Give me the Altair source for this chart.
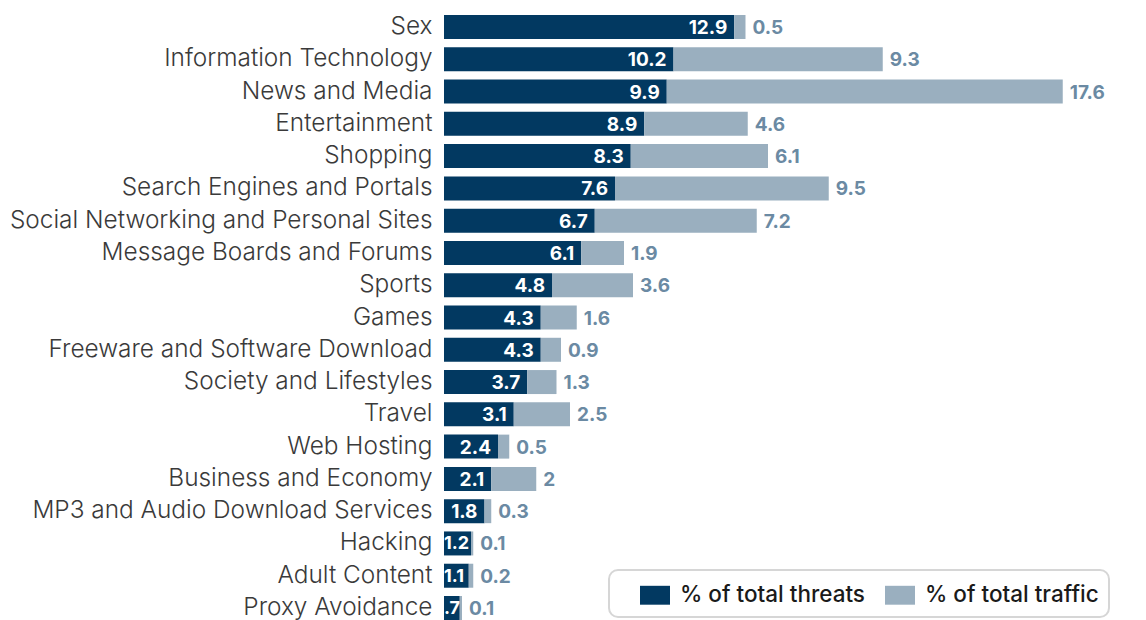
import altair as alt
import pandas as pd

categories = [
    "Sex", "Information Technology", "News and Media", "Entertainment", "Shopping",
    "Search Engines and Portals", "Social Networking and Personal Sites",
    "Message Boards and Forums", "Sports", "Games", "Freeware and Software Download",
    "Society and Lifestyles", "Travel", "Web Hosting", "Business and Economy",
    "MP3 and Audio Download Services", "Hacking", "Adult Content", "Proxy Avoidance",
]
threats = [12.9, 10.2, 9.9, 8.9, 8.3, 7.6, 6.7, 6.1, 4.8, 4.3, 4.3, 3.7, 3.1, 2.4, 2.1, 1.8, 1.2, 1.1, 0.7]
traffic = [0.5, 9.3, 17.6, 4.6, 6.1, 9.5, 7.2, 1.9, 3.6, 1.6, 0.9, 1.3, 2.5, 0.5, 2.0, 0.3, 0.1, 0.2, 0.1]
series = ["% of total threats", "% of total traffic"]
colors = ["#023961", "#9AAFBF"]


def fmt_threat(v):
    s = f"{v:g}"
    return s[1:] if s.startswith("0.") else s


wide = pd.DataFrame({
    "category": categories,
    "threats": threats,
    "traffic": traffic,
})
wide["total"] = wide["threats"] + wide["traffic"]
wide["threat_label"] = [fmt_threat(v) for v in threats]
wide["traffic_label"] = [f"{v:g}" for v in traffic]

long = pd.DataFrame({
    "category": categories * 2,
    "series": [series[0]] * len(categories) + [series[1]] * len(categories),
    "value": threats + traffic,
    "order": [0] * len(categories) + [1] * len(categories),
})

FONT = "Inter"

y_enc = alt.Y(
    "category:N",
    sort=categories,
    title=None,
    scale=alt.Scale(paddingInner=0.2565, paddingOuter=0),
    axis=alt.Axis(
        ticks=False, domain=False, labelFontSize=24.4, labelColor="#3a3a3a",
        labelFont=FONT, labelPadding=12, labelFontWeight=300, labelLimit=440,
    ),
)
x_scale = alt.Scale(domain=[0, 30], nice=False, zero=True)

bars = alt.Chart(long).mark_bar(size=24).encode(
    y=y_enc,
    x=alt.X("value:Q", stack="zero", scale=x_scale, axis=None),
    color=alt.Color(
        "series:N",
        scale=alt.Scale(domain=series, range=colors),
        legend=alt.Legend(
            title="\u00a0",
            titleOrient="left",
            titleFontSize=8,
            titlePadding=21,
            orient="none",
            direction="horizontal",
            legendX=165,
            legendY=555,
            padding=10,
            strokeColor="#d6d6d6",
            cornerRadius=9,
            fillColor="white",
            symbolType="M-1,-0.63L1,-0.63L1,0.63L-1,0.63Z",
            symbolSize=900,
            symbolOpacity=1,
            symbolStrokeWidth=0,
            labelFontSize=22.5,
            labelFont=FONT,
            labelFontWeight=500,
            labelColor="#1a1a1a",
            labelOffset=10,
            labelLimit=300,
            columnPadding=20,
        ),
    ),
    order=alt.Order("order:Q"),
)

threat_text_long = alt.Chart(wide).transform_filter(
    alt.datum.threats >= 1.5
).mark_text(
    align="right", baseline="middle", dx=-7, dy=1, color="white",
    font=FONT, fontWeight="bold", fontSize=19,
).encode(
    y=alt.Y("category:N", sort=categories),
    x=alt.X("threats:Q", scale=x_scale),
    text="threat_label:N",
)

threat_text_short = alt.Chart(wide).transform_filter(
    alt.datum.threats < 1.5
).mark_text(
    align="left", baseline="middle", dx=0, dy=1, color="white",
    font=FONT, fontWeight="bold", fontSize=18,
).encode(
    y=alt.Y("category:N", sort=categories),
    x=alt.value(0),
    text="threat_label:N",
)

traffic_text = alt.Chart(wide).mark_text(
    align="left", baseline="middle", dx=7, dy=1, color="#6B8AA3",
    font=FONT, fontWeight="bold", fontSize=19,
).encode(
    y=alt.Y("category:N", sort=categories),
    x=alt.X("total:Q", scale=x_scale),
    text="traffic_label:N",
)

chart = alt.layer(bars, threat_text_long, threat_text_short, traffic_text).properties(
    width=675,
    height=605,
    padding={"left": 444, "top": 15, "right": 27, "bottom": 0},
    autosize=alt.AutoSizeParams(type="none"),
    background="white",
).configure_view(stroke=None).configure_legend(strokeWidth=2)

chart.save("out.html", embed_options={"renderer": "svg", "actions": False})
